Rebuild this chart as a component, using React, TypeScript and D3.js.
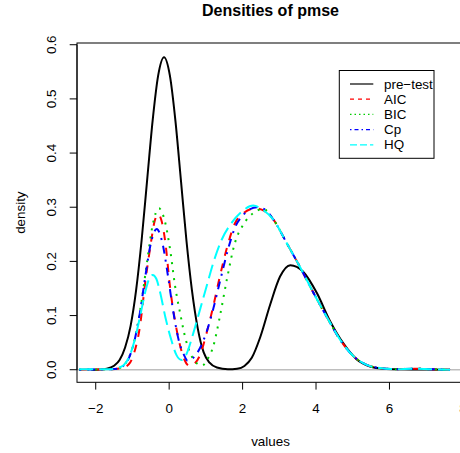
import React from 'react';
import * as d3 from 'd3';

// ---- data ----
const preX = [-2.12, -1.9, -1.7, -1.5, -1.35, -1.2, -1.05, -0.9, -0.75, -0.6, -0.45, -0.3, -0.14, 0.02, 0.17, 0.32, 0.47, 0.62, 0.78, 0.94, 1.1, 1.3, 1.6, 1.85, 2.05, 2.25, 2.48, 2.75, 3.02, 3.3, 3.65, 4.02, 4.38, 4.74, 5.11, 5.47, 5.84, 6.3, 7.0, 7.65];
const preY = [0, 0.0004, 0.0018, 0.0073, 0.018, 0.041, 0.081, 0.147, 0.239, 0.35, 0.46, 0.543, 0.577, 0.543, 0.46, 0.35, 0.239, 0.147, 0.076, 0.032, 0.013, 0.004, 0.001, 0.002, 0.007, 0.022, 0.06, 0.12, 0.172, 0.193, 0.181, 0.142, 0.09, 0.049, 0.019, 0.006, 0.002, 0.001, 0.0005, 0];

const aicX = [-2.45, -2.0, -1.6, -1.3, -1.1, -0.95, -0.8, -0.65, -0.5, -0.4, -0.3, -0.2, -0.1, 0.02, 0.16, 0.3, 0.42, 0.55, 0.7, 0.84, 1.02, 1.2, 1.38, 1.61, 1.79, 2.02, 2.34, 2.6, 2.84, 3.2, 3.56, 3.93, 4.29, 4.66, 5.02, 5.38, 5.74, 6.2, 6.6, 7.1, 7.65];
const aicY = [0, 0.0005, 0.001, 0.003, 0.01, 0.032, 0.078, 0.162, 0.233, 0.273, 0.287, 0.273, 0.233, 0.155, 0.09, 0.044, 0.018, 0.007, 0.012, 0.027, 0.068, 0.117, 0.172, 0.234, 0.27, 0.289, 0.298, 0.293, 0.277, 0.234, 0.19, 0.142, 0.098, 0.055, 0.025, 0.009, 0.003, 0.001, 0.002, 0.001, 0];

const bicX = [-2.45, -2.0, -1.6, -1.4, -1.2, -1.05, -0.9, -0.75, -0.6, -0.45, -0.28, -0.12, 0.03, 0.16, 0.3, 0.45, 0.6, 0.75, 0.9, 1.05, 1.2, 1.38, 1.57, 1.79, 2.02, 2.29, 2.56, 2.84, 3.2, 3.56, 3.93, 4.29, 4.66, 5.02, 5.38, 5.74, 6.2, 6.6, 7.1, 7.65];
const bicY = [0, 0.0005, 0.001, 0.0024, 0.011, 0.03, 0.068, 0.127, 0.2, 0.267, 0.298, 0.275, 0.22, 0.155, 0.104, 0.056, 0.027, 0.012, 0.008, 0.02, 0.043, 0.098, 0.166, 0.234, 0.268, 0.289, 0.297, 0.277, 0.234, 0.19, 0.142, 0.098, 0.055, 0.025, 0.009, 0.003, 0.001, 0.002, 0.001, 0];

const cpX = [-2.45, -2.0, -1.6, -1.4, -1.25, -1.1, -0.95, -0.8, -0.65, -0.5, -0.34, -0.18, -0.03, 0.12, 0.27, 0.4, 0.5, 0.62, 0.84, 1.02, 1.2, 1.38, 1.61, 1.79, 2.02, 2.39, 2.6, 2.84, 3.2, 3.56, 3.93, 4.29, 4.66, 5.02, 5.38, 5.74, 6.2, 6.6, 7.1, 7.65];
const cpY = [0, 0.0005, 0.001, 0.002, 0.007, 0.021, 0.052, 0.104, 0.172, 0.233, 0.26, 0.233, 0.172, 0.104, 0.052, 0.028, 0.017, 0.02, 0.04, 0.07, 0.112, 0.162, 0.224, 0.262, 0.286, 0.3, 0.296, 0.277, 0.234, 0.19, 0.142, 0.098, 0.055, 0.025, 0.009, 0.003, 0.001, 0.002, 0.001, 0];

const hqX = [-2.45, -2.0, -1.6, -1.43, -1.25, -1.1, -0.95, -0.8, -0.65, -0.55, -0.45, -0.35, -0.25, -0.1, 0.05, 0.2, 0.34, 0.45, 0.66, 0.84, 1.02, 1.2, 1.43, 1.7, 1.98, 2.29, 2.56, 2.84, 3.2, 3.56, 3.93, 4.29, 4.66, 5.02, 5.38, 5.74, 6.2, 6.6, 7.1, 7.65];
const hqY = [0.001, 0.001, 0.001, 0.003, 0.008, 0.022, 0.052, 0.096, 0.144, 0.167, 0.175, 0.168, 0.144, 0.096, 0.057, 0.027, 0.018, 0.026, 0.068, 0.111, 0.154, 0.197, 0.24, 0.271, 0.292, 0.303, 0.295, 0.277, 0.234, 0.19, 0.142, 0.098, 0.055, 0.025, 0.009, 0.003, 0.001, 0.002, 0.001, 0];

const seriesNames = ['pre\u2212test', 'AIC', 'BIC', 'Cp', 'HQ'];
const seriesColors = ['#000000', '#FF0000', '#00CD00', '#0000FF', '#00FFFF'];
const seriesDash = ['none', '8,8', '2,6', '2,6,8,6', '14,6'];
const legendDash = ['none', '4,4', '1.5,3', '1.5,3,4,3', '7,3'];
const seriesXs = [preX, aicX, bicX, cpX, hqX];
const seriesYs = [preY, aicY, bicY, cpY, hqY];

const xTicks = [-2, 0, 2, 4, 6, 8];
const yTicks = [0, 0.1, 0.2, 0.3, 0.4, 0.5, 0.6];

const FONT = "'Liberation Sans', Arial, Helvetica, sans-serif";

export default function App() {
  const W = 460, H = 453;
  const left = 77, right = 464, top = 43, bottom = 382.3;
  const x = d3.scaleLinear().domain([-2.51, 8.03]).range([left, right]);
  const y = d3.scaleLinear().domain([-0.0232, 0.6032]).range([bottom, top]);
  const line = d3.line<[number, number]>()
    .x(d => x(d[0]))
    .y(d => y(d[1]))
    .curve(d3.curveMonotoneX);
  const fmtX = (v: number) => (v < 0 ? '\u2212' + Math.abs(v) : String(v));
  const fs = 13.4;
  const legTop = 70.5, legStep = 15.2;
  return (
    <svg width={W} height={H} style={{ position: 'absolute', left: 0, top: 0, background: '#fff' }} fontFamily={FONT}>
      <defs>
        <clipPath id="plotClip">
          <rect x={left} y={top} width={right - left} height={bottom - top} />
        </clipPath>
      </defs>
      <rect x={0} y={0} width={W} height={H} fill="#fff" />
      <text x={(left + right) / 2} y={16} textAnchor="middle" fontWeight="bold" fontSize={16}>Densities of pmse</text>
      <g clipPath="url(#plotClip)">
        <line x1={left} x2={right} y1={y(0)} y2={y(0)} stroke="#BEBEBE" strokeWidth={1.4} />
        {seriesNames.map((n, i) => {
          const pts: [number, number][] = seriesXs[i].map((v, j) => [v, seriesYs[i][j]]);
          return (
            <path key={n} d={line(pts) || ''} fill="none" stroke={seriesColors[i]}
              strokeWidth={2} strokeDasharray={seriesDash[i]} strokeLinejoin="round" />
          );
        })}
      </g>
      <rect x={left} y={top} width={right - left} height={bottom - top} fill="none" stroke="#000" strokeWidth={1} />
      {/* x axis */}
      {xTicks.map(t => (
        <g key={'x' + t}>
          <line x1={x(t)} x2={x(t)} y1={bottom} y2={bottom + 7.3} stroke="#000" />
          <text x={x(t)} y={413.3} textAnchor="middle" fontSize={fs}>{fmtX(t)}</text>
        </g>
      ))}
      <text x={(left + right) / 2} y={446} textAnchor="middle" fontSize={fs}>values</text>
      {/* y axis */}
      <line x1={left} x2={left} y1={y(0)} y2={y(0.6)} stroke="#000" />
      {yTicks.map(t => (
        <g key={'y' + t}>
          <line x1={left - 7.3} x2={left} y1={y(t)} y2={y(t)} stroke="#000" />
          <text transform={`translate(55.5,${y(t)}) rotate(-90)`} textAnchor="middle" fontSize={fs}>{t.toFixed(1)}</text>
        </g>
      ))}
      <text transform={`translate(24.5,${(top + bottom) / 2}) rotate(-90)`} textAnchor="middle" fontSize={fs}>density</text>
      {/* legend */}
      <rect x={339.3} y={legTop} width={434 - 339.3} height={158.3 - legTop} fill="#fff" stroke="#000" />
      {seriesNames.map((n, i) => {
        const cy = 84 + i * legStep;
        return (
          <g key={'leg' + n}>
            <line x1={350} x2={373.3} y1={cy} y2={cy} stroke={seriesColors[i]} strokeWidth={1.2} strokeDasharray={legendDash[i]} />
            <text x={384} y={cy + 4.6} fontSize={fs}>{n}</text>
          </g>
        );
      })}
    </svg>
  );
}
